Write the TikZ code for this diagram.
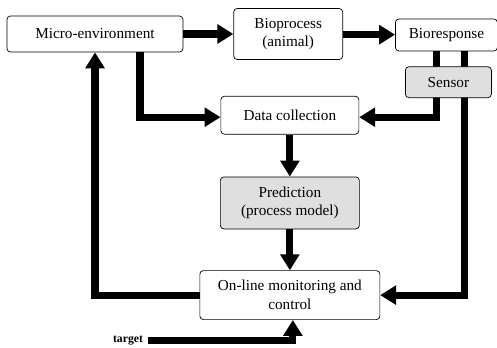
\documentclass[tikz,border=0pt]{standalone}
\usepackage{fontspec}
\setmainfont{Liberation Serif}
\usetikzlibrary{arrows.meta, positioning, calc}

\begin{document}
\begin{tikzpicture}[
  % --- styles ------------------------------------------------------------
  box/.style={
    rectangle, draw, rounded corners=3pt, line width=0.6pt,
    font=\fontsize{13}{16}\selectfont, align=center, fill=white,
    inner sep=2pt
  },
  graybox/.style={box, fill=gray!25},
  flow/.style={-{Triangle[length=0.48cm, width=0.56cm]}, line width=6pt},
  line/.style={line width=6pt}
]
\useasboundingbox (0,0) rectangle (14.91,-10.41);

% --------------------- top row ------------------------------------------
\node[box, minimum width=5.28cm, minimum height=1.08cm] (micro) at (2.85,-1.02) {Micro-environment};
\node[box, minimum width=3.27cm, minimum height=1.53cm, right=1.5cm of micro] (bioproc) {Bioprocess\\(animal)};
\node[box, minimum width=3.06cm, minimum height=0.96cm, right=1.56cm of bioproc, yshift=-0.03cm] (bioresp) {Bioresponse};

% --------------------- middle column ------------------------------------
\node[box, minimum width=4.14cm, minimum height=1.14cm, below=1.08cm of bioproc, xshift=0.05cm] (data) {Data collection};
\node[graybox, minimum width=4.17cm, minimum height=1.56cm, below=1.26cm of data] (pred) {Prediction\\(process model)};
\node[box, minimum width=5.4cm, minimum height=1.47cm, below=1.23cm of pred] (online) {On-line monitoring and\\control};

\node[font=\bfseries\fontsize{10}{12}\selectfont, inner sep=1pt] (target) at (3.84,-10.22) {target};

% --------------------- main flow arrows ---------------------------------
\draw[flow] (micro.east) -- (micro.east -| bioproc.west);
\draw[flow] ($(bioproc.east)+(0,-0.02)$) -- ($(bioproc.east -| bioresp.west)+(0,-0.02)$);

% micro ➜ data (down then right)
\draw[flow] ($(micro.south)+(1.35,0)$) |- ($(data.west)+(0,-0.06)$);

% bioresponse ➜ data / on-line (through the sensor)
\draw[flow] ($(bioresp.south)+(-0.3,0)$) |- ($(data.east)+(0,-0.06)$);
\draw[flow] ($(bioresp.south)+(0.54,0)$) |- (online.east);

\draw[flow] (data) -- (pred);
\draw[flow] (pred) -- (online);

% feedback to micro-environment
\draw[flow] (online.west) -| (micro.south);

% target ➜ on-line
\draw[flow] ($(target.east)+(0.12,0)$) -| ($(online.south)+(0.09,0)$);

% sensor on top of the lines
\node[graybox, minimum width=2.58cm, minimum height=0.93cm, below=0.45cm of bioresp, xshift=0.06cm] (sensor) {Sensor};

\end{tikzpicture}
\end{document}
